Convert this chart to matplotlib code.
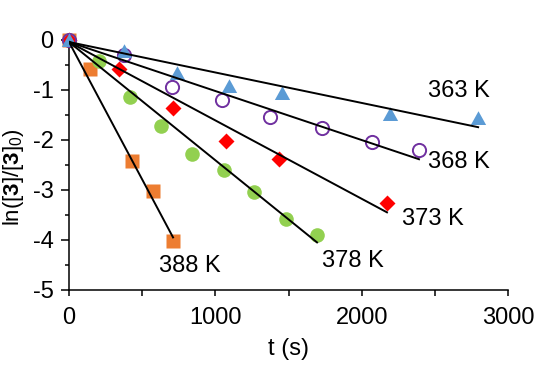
import numpy as np
import matplotlib
matplotlib.use('Agg')
import matplotlib.pyplot as plt

# =============================================================================
# Data
# =============================================================================

t_363 = [0, 376, 738, 1094, 1456, 2194, 2796]
y_363 = [0, -0.23, -0.67, -0.93, -1.07, -1.49, -1.57]

t_368 = [0, 376, 703, 1043, 1374, 1729, 2071, 2392]
y_368 = [0, -0.31, -0.94, -1.20, -1.55, -1.76, -2.04, -2.21]

t_373 = [0, 345, 711, 1073, 1435, 2173]
y_373 = [0, -0.59, -1.36, -2.02, -2.38, -3.26]

t_378 = [0, 205, 417, 629, 841, 1060, 1265, 1483, 1695]
y_378 = [0, -0.42, -1.15, -1.72, -2.29, -2.60, -3.04, -3.58, -3.91]

t_388 = [0, 144, 430, 574, 711]
y_388 = [0, -0.59, -2.42, -3.02, -4.03]

#Linear fit lines (start and end points)
fit_t = {'363': [0, 2796], '368': [0, 2392], '373': [0, 2173], '378': [0, 1695], '388': [0, 711]}
fit_y = {'363': [-0.05, -1.75], '368': [-0.05, -2.39], '373': [-0.05, -3.45], '378': [-0.05, -4.05], '388': [-0.05, -3.95]}

#Label positions
labels = ['363 K', '368 K', '373 K', '378 K', '388 K']
label_t = [2666, 2666, 2488, 1941, 827]
label_y = [-1.03, -2.45, -3.58, -4.43, -4.53]

# =============================================================================
# Plotting
# =============================================================================

params = {'font.family': 'Liberation Sans',
          'font.size': 17,
          'mathtext.fontset': 'custom',
          'mathtext.rm': 'Liberation Sans',
          'mathtext.it': 'Liberation Sans:italic',
          'mathtext.bf': 'Liberation Sans:bold',
          'axes.unicode_minus': False,
          'axes.linewidth': 1.1,
          'xtick.major.width': 1.1,
          'ytick.major.width': 1.1,
          'ytick.minor.width': 1.1}
plt.rcParams.update(params)

fig = plt.figure(figsize=(5.36, 3.70), dpi=100)
ax = fig.add_axes([69/536, 1 - 290/370, (508 - 69)/536, (290 - 39.5)/370])

#Excel-ish triangle, a bit wider than tall
tri = [(-1, -0.85), (1, -0.85), (0, 0.95)]

ax.plot(t_388, y_388, 's', color='#ED7D31', ms=10, mec='none', clip_on=False, zorder=3)
ax.plot(t_378, y_378, 'o', color='#92D050', ms=10.5, mec='none', clip_on=False, zorder=3)
ax.plot(t_373, y_373, 'D', color='#FF0000', ms=8, mec='none', clip_on=False, zorder=3)
ax.plot(t_368, y_368, 'o', mfc='none', mec='#7030A0', mew=1.4, ms=9.5, clip_on=False, zorder=3)
ax.plot(t_363, y_363, marker=tri, ls='none', color='#5B9BD5', ms=11, mec='none', clip_on=False, zorder=3)

for k in fit_t:
    ax.plot(fit_t[k], fit_y[k], color='black', lw=1.4, zorder=4)

for lab, lt, ly in zip(labels, label_t, label_y):
    ax.text(lt, ly, lab, ha='center', va='center')

ax.set_xlim(0, 3000)
ax.set_ylim(-5, 0)
ax.spines['top'].set_visible(False)
ax.spines['right'].set_visible(False)

ax.set_xticks(np.arange(0, 3001, 500))
ax.set_xticklabels(['0', '', '1000', '', '2000', '', '3000'])
ax.set_yticks(np.arange(-5, 1, 1))
ax.set_yticks(np.arange(-4.5, 0, 1), minor=True)
ax.tick_params(axis='x', direction='out', length=4, pad=8)
ax.tick_params(axis='y', which='major', direction='out', length=6, pad=5)
ax.tick_params(axis='y', which='minor', direction='out', length=3)

ax.set_xlabel('t (s)', labelpad=7)
fig.text(14/536, 1 - 177/370, r'ln([$\mathbf{3}$]/[$\mathbf{3}$]$_0$)', fontsize=16,
         rotation=90, ha='center', va='center')

plt.savefig('out.png', dpi=100)
